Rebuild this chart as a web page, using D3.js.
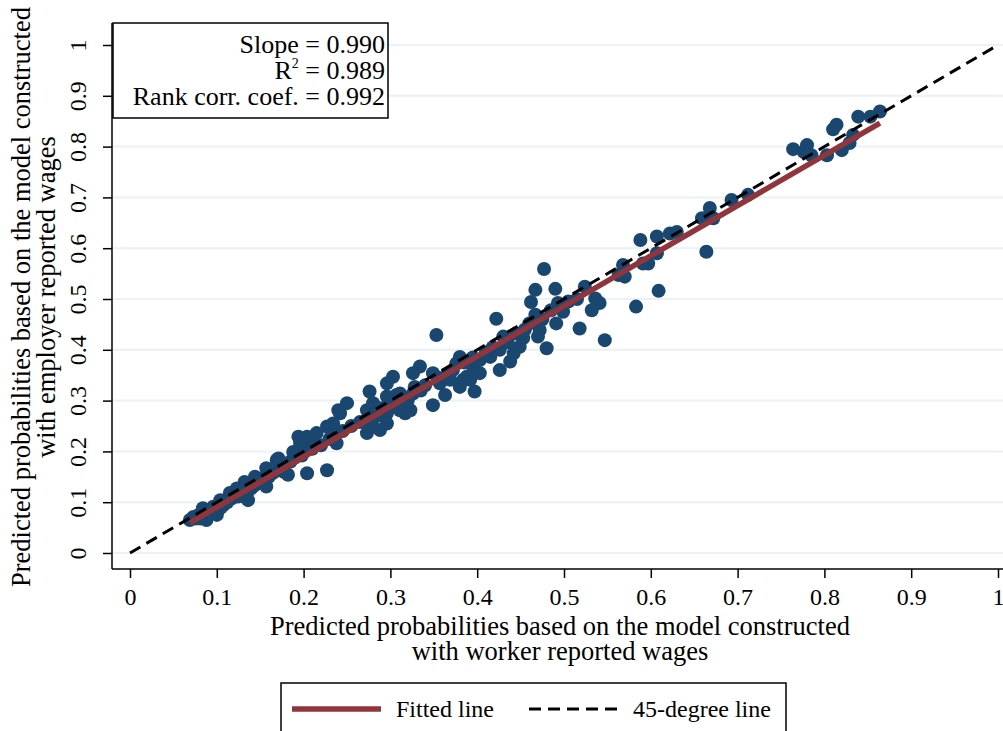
<!DOCTYPE html>
<html>
<head>
<meta charset="utf-8">
<script src="https://cdn.jsdelivr.net/npm/d3@7"></script>
<style>
  html, body { margin: 0; padding: 0; background: #fff; }
  svg { display: block; }
  text { font-family: "Liberation Serif", "Times New Roman", serif; fill: #000; }
</style>
</head>
<body>
<svg id="chart" width="1003" height="731"></svg>
<script>
// ---- data ----
const workerWage = [0.864,0.853,0.839,0.814,0.810,0.833,0.829,0.820,0.803,0.780,0.776,0.764,0.785,0.712,0.693,0.668,0.672,0.659,0.664,0.630,0.622,0.607,0.588,0.607,0.597,0.591,0.609,0.568,0.563,0.570,0.524,0.536,0.541,0.532,0.583,0.547,0.518,0.477,0.467,0.490,0.462,0.493,0.499,0.467,0.491,0.422,0.472,0.470,0.480,0.453,0.449,0.430,0.438,0.426,0.415,0.403,0.353,0.442,0.426,0.380,0.396,0.403,0.384,0.388,0.397,0.380,0.363,0.349,0.334,0.326,0.349,0.303,0.296,0.296,0.311,0.328,0.311,0.317,0.296,0.357,0.369,0.376,0.276,0.307,0.326,0.392,0.250,0.240,0.273,0.273,0.280,0.273,0.288,0.296,0.323,0.307,0.234,0.227,0.234,0.238,0.215,0.204,0.194,0.196,0.215,0.227,0.204,0.188,0.171,0.182,0.177,0.157,0.156,0.157,0.144,0.144,0.136,0.136,0.132,0.123,0.125,0.115,0.111,0.106,0.102,0.096,0.088,0.084,0.079,0.073,0.069,0.081,0.088,0.100,0.242,0.280,0.300,0.169,0.146,0.104,0.200,
  0.076,0.083,0.092,0.095,0.098,0.105,0.108,0.112,0.118,0.120,0.127,0.130,0.140,0.145,0.150,0.160,0.165,0.175,0.185,0.190,0.198,0.210,0.220,0.230,0.245,0.255,0.265,0.285,0.290,0.300,0.315,0.320,0.335,0.340,0.355,0.365,0.372,0.385,0.395,0.410,0.418,0.435,0.445,0.455,0.460,0.475,0.485,0.505,0.515];
const employerWage = [0.869,0.859,0.859,0.843,0.834,0.823,0.807,0.793,0.783,0.803,0.790,0.795,0.783,0.705,0.695,0.679,0.659,0.659,0.593,0.632,0.629,0.623,0.616,0.590,0.570,0.570,0.516,0.567,0.547,0.544,0.524,0.501,0.492,0.478,0.485,0.419,0.442,0.559,0.518,0.520,0.494,0.492,0.475,0.469,0.452,0.461,0.439,0.426,0.403,0.423,0.406,0.426,0.377,0.400,0.386,0.380,0.429,0.393,0.360,0.386,0.360,0.354,0.341,0.347,0.318,0.327,0.311,0.291,0.367,0.354,0.354,0.347,0.334,0.308,0.314,0.327,0.281,0.275,0.275,0.334,0.341,0.373,0.318,0.311,0.314,0.341,0.295,0.281,0.281,0.262,0.249,0.236,0.242,0.255,0.281,0.288,0.255,0.249,0.229,0.216,0.236,0.229,0.229,0.216,0.213,0.163,0.157,0.199,0.186,0.154,0.160,0.167,0.150,0.131,0.150,0.134,0.121,0.104,0.140,0.127,0.111,0.118,0.104,0.098,0.085,0.091,0.081,0.088,0.075,0.071,0.065,0.068,0.065,0.075,0.275,0.295,0.301,0.183,0.144,0.104,0.216,
  0.068,0.072,0.078,0.085,0.080,0.090,0.095,0.100,0.108,0.112,0.118,0.122,0.128,0.138,0.140,0.150,0.158,0.170,0.180,0.188,0.192,0.205,0.212,0.225,0.240,0.250,0.258,0.270,0.285,0.292,0.305,0.300,0.320,0.330,0.345,0.350,0.360,0.375,0.385,0.395,0.405,0.415,0.432,0.440,0.452,0.460,0.478,0.495,0.500];
const fitSlope = 0.990;
const fitIntercept = -0.009;
const tickValues = [0,0.1,0.2,0.3,0.4,0.5,0.6,0.7,0.8,0.9,1];
const tickLabels = ["0","0.1","0.2","0.3","0.4","0.5","0.6","0.7","0.8","0.9","1"];
const statLines = ["Slope = 0.990", "R2", "Rank corr. coef. = 0.992"];
const xTitle = ["Predicted probabilities based on the model constructed", "with worker reported wages"];
const yTitle = ["Predicted probabilities based on the model constructed", "with employer reported wages"];
const legendLabels = ["Fitted line", "45-degree line"];

// ---- layout ----
const svg = d3.select("#chart");
const axisX = 112, axisY = 569, plotTop = 23, plotRight = 1003;
const x = d3.scaleLinear().domain([0, 1]).range([130, 998]);
const y = d3.scaleLinear().domain([0, 1]).range([553, 45]);
const navy = "#1a476f", maroon = "#90353b", grid = "#eaf2f3";

// gridlines
svg.append("g").selectAll("line").data(tickValues).join("line")
  .attr("x1", axisX + 1).attr("x2", plotRight)
  .attr("y1", d => y(d)).attr("y2", d => y(d))
  .attr("stroke", grid).attr("stroke-width", 2);

// y axis
const yAxis = d3.axisLeft(y).tickValues(tickValues)
  .tickFormat((d, i) => tickLabels[i]).tickSize(9).tickPadding(0);
const gy = svg.append("g").attr("transform", `translate(${axisX},0)`).call(yAxis);
gy.select(".domain").attr("d", `M0,${plotTop}V${axisY}`).attr("stroke", "#000").attr("stroke-width", 1.5);
gy.selectAll(".tick line").attr("stroke", "#000").attr("stroke-width", 1.5);
gy.selectAll(".tick text")
  .attr("font-size", 24).attr("text-anchor", "middle")
  .attr("x", null).attr("dy", null)
  .attr("transform", "translate(-26,0) rotate(-90)")
  .style("font-family", "'Liberation Serif', serif");

// x axis
const xAxis = d3.axisBottom(x).tickValues(tickValues)
  .tickFormat((d, i) => tickLabels[i]).tickSize(9).tickPadding(10);
const gx = svg.append("g").attr("transform", `translate(0,${axisY})`).call(xAxis);
gx.select(".domain").attr("d", `M${axisX},0H${plotRight}`).attr("stroke", "#000").attr("stroke-width", 1.5);
gx.selectAll(".tick line").attr("stroke", "#000").attr("stroke-width", 1.5);
gx.selectAll(".tick text").attr("font-size", 24).attr("dy", "0.71em")
  .style("font-family", "'Liberation Serif', serif");

// points
svg.append("g").selectAll("circle").data(workerWage.map((v, i) => [v, employerWage[i]])).join("circle")
  .attr("cx", d => x(d[0])).attr("cy", d => y(d[1])).attr("r", 7)
  .attr("fill", navy);

// fitted line
const xr = d3.extent(workerWage);
svg.append("line")
  .attr("x1", x(xr[0])).attr("y1", y(fitIntercept + fitSlope * xr[0]))
  .attr("x2", x(xr[1])).attr("y2", y(fitIntercept + fitSlope * xr[1]))
  .attr("stroke", maroon).attr("stroke-width", 5.5);

// 45-degree line
svg.append("line")
  .attr("x1", x(0)).attr("y1", y(0)).attr("x2", x(1)).attr("y2", y(1))
  .attr("stroke", "#000").attr("stroke-width", 3).attr("stroke-dasharray", "12,7");

// stats box
svg.append("rect").attr("x", 113).attr("y", 23).attr("width", 275).attr("height", 95)
  .attr("fill", "#fff").attr("stroke", "#000").attr("stroke-width", 1.5);
const st = svg.append("g").attr("font-size", 26).attr("text-anchor", "end");
st.append("text").attr("x", 385).attr("y", 53).text(statLines[0]);
const r2 = st.append("text").attr("x", 385).attr("y", 79);
r2.append("tspan").text("R");
r2.append("tspan").attr("font-size", 14).attr("dy", -11).text("2");
r2.append("tspan").attr("dy", 11).text(" = 0.989");
st.append("text").attr("x", 385).attr("y", 105).text(statLines[2]);

// axis titles
const xt = svg.append("g").attr("font-size", 26.5).attr("text-anchor", "middle");
xt.append("text").attr("x", 560).attr("y", 635).text(xTitle[0]);
xt.append("text").attr("x", 560).attr("y", 660).text(xTitle[1]);
const yt = svg.append("g").attr("font-size", 26.5).attr("text-anchor", "middle");
yt.append("text").attr("transform", "translate(30,297) rotate(-90)").text(yTitle[0]);
yt.append("text").attr("transform", "translate(55,297) rotate(-90)").text(yTitle[1]);

// legend
svg.append("rect").attr("x", 281).attr("y", 683).attr("width", 505).attr("height", 60)
  .attr("fill", "#fff").attr("stroke", "#000").attr("stroke-width", 1.5);
svg.append("line").attr("x1", 292).attr("x2", 381).attr("y1", 709).attr("y2", 709)
  .attr("stroke", maroon).attr("stroke-width", 5.5);
svg.append("text").attr("x", 396).attr("y", 717).attr("font-size", 24).text(legendLabels[0]);
svg.append("line").attr("x1", 529).attr("x2", 618).attr("y1", 709).attr("y2", 709)
  .attr("stroke", "#000").attr("stroke-width", 3).attr("stroke-dasharray", "12,7");
svg.append("text").attr("x", 633).attr("y", 717).attr("font-size", 24).text(legendLabels[1]);
</script>
</body>
</html>
